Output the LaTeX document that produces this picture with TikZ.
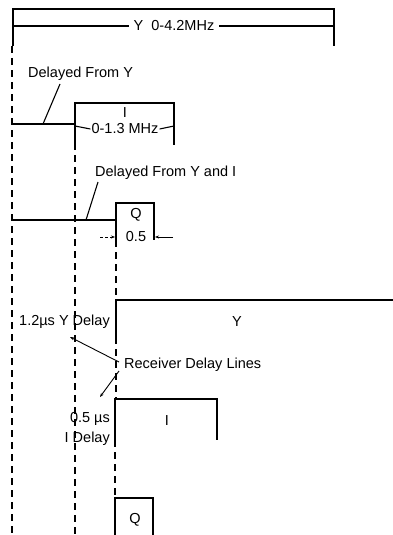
\documentclass[tikz,border=0pt]{standalone}
\usepackage{fontspec}
\setmainfont{Liberation Sans}
\usetikzlibrary{arrows.meta}
\begin{document}
\begin{tikzpicture}[x=1pt,y=-1pt,
  pulse/.style={line width=2.8pt,line join=miter},
  thinline/.style={line width=1.1pt},
  dashline/.style={line width=1.1pt,dash pattern=on 7pt off 5pt},
  lbl/.style={font=\fontsize{14.5}{16}\selectfont,inner sep=1pt},
  tip/.style={-{Stealth[length=4pt,width=3pt]},line width=0.9pt}]
\useasboundingbox (0,0) rectangle (393,535);
% top Y pulse
\coordinate (ya) at (13,46);
\coordinate (yb) at (13,9);
\coordinate (yc) at (334,9);
\coordinate (yd) at (334,46);
\draw[pulse] (ya) -- (yb) -- (yc) -- (yd);
\node[lbl] (ylab) at (174,26) {Y\ \ 0-4.2MHz};
\coordinate (yl) at (13,26);
\coordinate (yr) at (334,26);
\draw[thinline] (yl) -- ([xshift=-4pt]ylab.west);
\draw[thinline] ([xshift=4pt]ylab.east) -- (yr);
% dashed verticals
\coordinate (d1a) at (12,46);
\coordinate (d1b) at (12,535);
\draw[dashline] (d1a) -- (d1b);
\coordinate (d2a) at (75,143);
\coordinate (d2b) at (75,535);
\draw[dashline] (d2a) -- (d2b);
% Delayed from Y
\node[lbl,anchor=west] (dfy) at (27,74) {Delayed From Y};
\coordinate (h1a) at (12,124);
\coordinate (h1b) at (75,124);
\draw[thinline] (h1a) -- (h1b);
\coordinate (l1s) at (60,84);
\coordinate (l1) at (43,124);
\draw[thinline] (l1s) -- (l1);
% I pulse
\coordinate (ia) at (75,143);
\coordinate (ib) at (75,103);
\coordinate (ic) at (174,103);
\coordinate (id) at (174,145);
\draw[pulse] (ia) -- (ib) -- (ic) -- (id);
\node[lbl] (ilab) at (125,113) {I};
\node[lbl] (ibw) at (125,129) {0-1.3 MHz};
\coordinate (iwl) at (75,126);
\coordinate (iwr) at (174,126);
\draw[thinline] (iwl) -- (ibw.west);
\draw[thinline] (ibw.east) -- (iwr);
% Delayed from Y and I
\node[lbl,anchor=west] (dfyi) at (94,173) {Delayed From Y and I};
\coordinate (h2a) at (12,220);
\coordinate (h2b) at (116,220);
\draw[thinline] (h2a) -- (h2b);
\coordinate (l2s) at (98,182);
\coordinate (l2e) at (86,220);
\draw[thinline] (l2s) -- (l2e);
% Q pulse
\coordinate (qa) at (116,240);
\coordinate (qb) at (116,203);
\coordinate (qc) at (154,203);
\coordinate (qd) at (154,240);
\draw[pulse] (qa) -- (qb) -- (qc) -- (qd);
\node[lbl] (qlab) at (136,215) {Q};
\node[lbl] (qbw) at (136,237) {0.5};
\coordinate (qal) at (100,237);
\coordinate (qar) at (173,237);
\coordinate (qel) at (115,237);
\coordinate (qer) at (155,237);
\draw[tip,dash pattern=on 3pt off 2pt] (qal) -- (qel);
\draw[tip] (qar) -- (qer);
% dashed x=116
\coordinate (d3a) at (116,240);
\coordinate (d3b) at (116,300);
\draw[dashline] (d3a) -- (d3b);
\coordinate (d3c) at (116,337);
\coordinate (d3d) at (116,399);
\draw[dashline] (d3c) -- (d3d);
\coordinate (d3e) at (115,440);
\coordinate (d3f) at (115,498);
\draw[dashline] (d3e) -- (d3f);
% bottom Y
\coordinate (ba) at (116,337);
\coordinate (bb) at (116,300);
\coordinate (bc) at (393,300);
\draw[pulse] (ba) -- (bb) -- (bc);
\node[lbl] (bylab) at (237,322) {Y};
\node[lbl,anchor=east] (ydel) at (111,322) {1.2µs Y Delay};
% receiver delay lines
\node[lbl,anchor=west] (rdl) at (123,365) {Receiver Delay Lines};
\coordinate (r1s) at (119,362);
\coordinate (r1e) at (70,337);
\draw[tip] (r1s) -- (r1e);
\coordinate (r2s) at (119,371);
\coordinate (r2e) at (100,397);
\draw[tip] (r2s) -- (r2e);
% bottom I
\coordinate (bia) at (115,440);
\coordinate (bib) at (115,399);
\coordinate (bic) at (217,399);
\coordinate (bid) at (217,440);
\draw[pulse] (bia) -- (bib) -- (bic) -- (bid);
\node[lbl] (bilab) at (167,421) {I};
\node[lbl,anchor=east] (idel1) at (111,419) {0.5 µs};
\node[lbl,anchor=east] (idel2) at (111,439) {I Delay};
% bottom Q
\coordinate (bqa) at (115,535);
\coordinate (bqb) at (115,498);
\coordinate (bqc) at (153,498);
\coordinate (bqd) at (153,535);
\draw[pulse] (bqa) -- (bqb) -- (bqc) -- (bqd);
\node[lbl] (bqlab) at (135,520) {Q};
\end{tikzpicture}
\end{document}
